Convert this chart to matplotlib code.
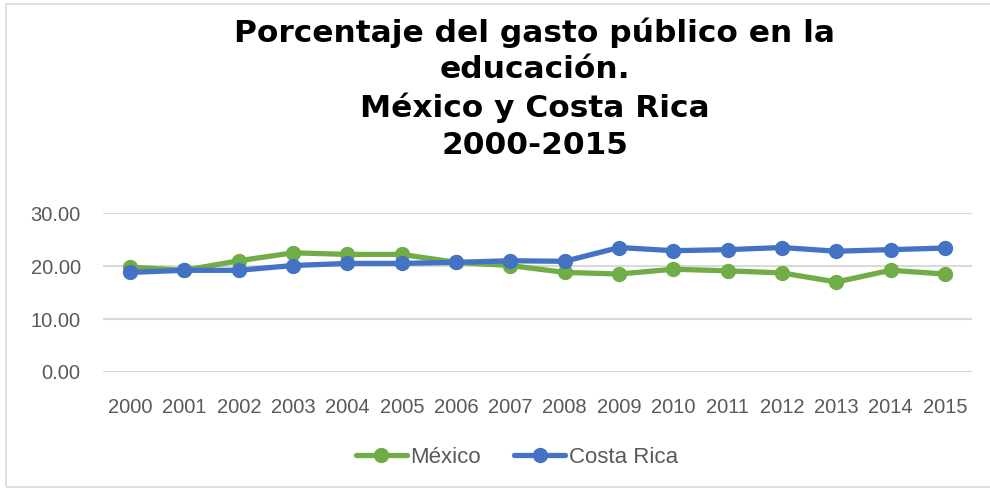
import matplotlib.pyplot as plt
from matplotlib.patches import Rectangle
from matplotlib.ticker import FormatStrFormatter

years = [str(y) for y in range(2000, 2016)]
mexico = [19.8, 19.2, 21.0, 22.5, 22.2, 22.2, 20.7, 20.1, 18.8, 18.5, 19.4, 19.1, 18.7, 17.0, 19.2, 18.5]
costa_rica = [18.8, 19.2, 19.2, 20.1, 20.5, 20.5, 20.7, 21.0, 20.9, 23.5, 22.9, 23.1, 23.5, 22.8, 23.1, 23.4]

GREEN = '#70AD47'
BLUE = '#4472C4'
GRAY = '#595959'

fig = plt.figure(figsize=(9.9, 4.91), dpi=100)
ax = fig.add_axes([0.104, 0.2424, 0.878, 0.3236])

x = range(len(years))
ax.plot(x, mexico, color=GREEN, lw=3.8, marker='o', ms=10, label='México',
        solid_capstyle='round', zorder=3)
ax.plot(x, costa_rica, color=BLUE, lw=3.8, marker='o', ms=10, label='Costa Rica',
        solid_capstyle='round', zorder=4)

ax.set_xlim(-0.5, len(years) - 0.5)
ax.set_ylim(0, 30)
ax.set_yticks([0, 10, 20, 30])
ax.yaxis.set_major_formatter(FormatStrFormatter('%.2f'))
ax.set_xticks(list(x))
ax.set_xticklabels(years)
ax.grid(axis='y', color='#D9D9D9', lw=1.5)
ax.set_axisbelow(True)
for s in ax.spines.values():
    s.set_visible(False)
ax.tick_params(axis='y', length=0, pad=16, labelsize=14.5, labelcolor=GRAY)
ax.tick_params(axis='x', length=0, pad=19, labelsize=14.5, labelcolor=GRAY)
for lbl in ax.get_xticklabels() + ax.get_yticklabels():
    lbl.set_family('Liberation Sans')

# titulo
fig.text(0.54, 0.82, 'Porcentaje del gasto público en la\neducación.\nMéxico y Costa Rica\n2000-2015',
         ha='center', va='center', fontsize=22.5, fontweight='bold', linespacing=1.33,
         family='DejaVu Sans')

leg = fig.legend(loc='center', bbox_to_anchor=(0.522, 0.069), ncol=2, frameon=False,
                 prop={'family': 'Liberation Sans', 'size': 16}, handlelength=2.3,
                 handletextpad=0.15, columnspacing=1.5)
for t in leg.get_texts():
    t.set_color(GRAY)

fig.patches.append(Rectangle((0.006, 0.008), 1.2, 0.984, transform=fig.transFigure,
                             fill=False, edgecolor='#D9D9D9', lw=1.2))

fig.savefig('out.png', dpi=100)
